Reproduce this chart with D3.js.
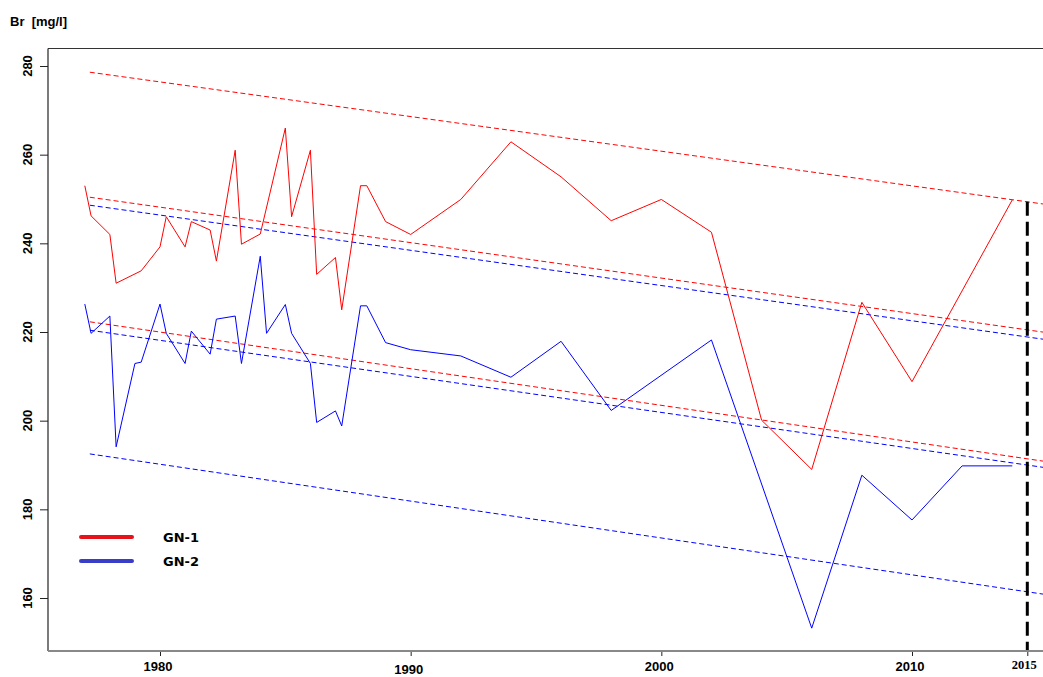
<!DOCTYPE html>
<html><head><meta charset="utf-8">
<script src="https://cdn.jsdelivr.net/npm/d3@7"></script>
<style>body{margin:0;background:#fff}svg{display:block}</style>
</head><body><svg id="c" width="1043" height="677"></svg>
<script>
// ---- data ----
const gn1Years = [1977,1977.25,1978,1978.25,1979.25,1980,1980.25,1981,1981.25,1982,1982.25,1983,1983.25,1984,1985,1985.25,1986,1986.25,1987,1987.25,1988,1988.25,1989,1990,1992,1994,1996,1998,2000,2002,2004,2006,2008,2010,2014];
const gn1Values = [253,246.2,242,231,233.8,239.2,246,239.2,244.9,243,236,261,239.8,242.1,266,246,261,233,236.8,225,253,253,244.9,242,249.9,262.9,255,245.1,249.9,242.5,200.1,189,226.7,208.8,249.8];
const gn2Years = [1977,1977.25,1978,1978.25,1979,1979.25,1980,1980.25,1981,1981.25,1982,1982.25,1983,1983.25,1984,1984.25,1985,1985.25,1986,1986.25,1987,1987.25,1988,1988.25,1989,1990,1992,1994,1996,1998,2002,2006,2008,2010,2012,2014];
const gn2Values = [226.3,219.7,223.6,194.1,212.9,213.2,226.3,219.7,212.9,220.2,215,222.9,223.6,212.9,237.1,219.7,226.2,219.7,212.9,199.6,202.2,198.8,225.9,225.9,217.6,216,214.6,209.8,217.9,202.3,218.2,153.2,187.7,177.6,189.8,189.8];
// trend lines (fit and bounds) at start / end years
const fitYears = [1977.2, 2015.2];
const gn1Upper = [278.6, 248.9];
const gn1Fit   = [250.4, 220.0];
const gn1Lower = [222.3, 190.9];
const gn2Upper = [248.6, 218.4];
const gn2Fit   = [220.4, 189.5];
const gn2Lower = [192.5, 160.9];
const markerPos = 2014.6;      // where the annotated "2015" marker sits on the time axis
const markerLabel = "2015";
const xTicks = [1980,1990,2000,2010];
const yTicks = [160,180,200,220,240,260,280];
const legendLabels = ["GN-1","GN-2"];
const yTitle = "Br  [mg/l]";

(function(){
// ---- layout ----
const svg = d3.select("#c");
const pL = 48, pT = 48.5, pB = 651, pR = 1070;
const x = d3.scaleLinear().domain([1980, 2010]).range([160, 912]);
const y = d3.scaleLinear().domain([280, 160]).range([66, 598]);
const red = "#ff0000", blue = "#0000ff";

svg.append("clipPath").attr("id","pc").append("rect")
  .attr("x", pL).attr("y", pT).attr("width", pR-pL).attr("height", pB-pT);

// frame lines
svg.append("line").attr("x1",pL).attr("x2",1043).attr("y1",pT).attr("y2",pT).attr("stroke","#333").attr("stroke-width",1);
svg.append("line").attr("x1",pL).attr("x2",pL).attr("y1",pT).attr("y2",pB).attr("stroke","#222").attr("stroke-width",1.2);

const g = svg.append("g").attr("clip-path","url(#pc)");
const line = d3.line().x(d=>x(d[0])).y(d=>y(d[1]));

function trend(vals, col){
  const s = (vals[1]-vals[0])/(fitYears[1]-fitYears[0]);
  const xe = x.invert(pR);
  g.append("path").datum([[fitYears[0], vals[0]], [xe, vals[0] + s*(xe-fitYears[0])]])
   .attr("d", line)
   .attr("fill","none").attr("stroke",col).attr("stroke-width",1).attr("stroke-dasharray","5,3");
}
trend(gn1Upper, red); trend(gn1Fit, red); trend(gn1Lower, red);
trend(gn2Upper, blue); trend(gn2Fit, blue); trend(gn2Lower, blue);

g.append("path").datum(gn1Years.map((yr,i)=>[yr,gn1Values[i]])).attr("d",line)
  .attr("fill","none").attr("stroke",red).attr("stroke-width",1);
g.append("path").datum(gn2Years.map((yr,i)=>[yr,gn2Values[i]])).attr("d",line)
  .attr("fill","none").attr("stroke",blue).attr("stroke-width",1);

// vertical marker from upper bound down to axis
const s1 = (gn1Upper[1]-gn1Upper[0])/(fitYears[1]-fitYears[0]);
const topVal = gn1Upper[0] + s1*(markerPos-fitYears[0]);
svg.append("line").attr("x1",x(markerPos)).attr("x2",x(markerPos))
  .attr("y1",y(topVal)).attr("y2",pB)
  .attr("stroke","#000").attr("stroke-width",3).attr("stroke-dasharray","14,6");

// x axis
const xa = svg.append("g").attr("transform",`translate(0,${pB})`)
  .call(d3.axisBottom(x).tickValues(xTicks.concat([markerPos])).tickSize(5).tickFormat(""));
xa.select(".domain").remove();
xa.selectAll(".tick line").attr("stroke","#222");
svg.append("line").attr("x1",pL).attr("x2",1043).attr("y1",pB).attr("y2",pB).attr("stroke","#888").attr("stroke-width",2);
svg.selectAll(".xl").data(xTicks).enter().append("text")
  .attr("x",d=>x(d)-2).attr("y",d=> d===1990 ? 674 : 671)
  .attr("text-anchor","middle").attr("font-family","Liberation Sans Narrow, Arial Narrow, Arial, sans-serif")
  .attr("font-weight","bold").attr("font-size",13).attr("fill","#000").text(d=>d);
svg.append("text").attr("x",x(markerPos)-3).attr("y",669).attr("text-anchor","middle")
  .attr("font-family","Liberation Serif, Times New Roman, serif").attr("font-weight","bold")
  .attr("font-size",12.5).text(markerLabel);

// y axis
const ya = svg.append("g").attr("transform",`translate(${pL},0)`)
  .call(d3.axisLeft(y).tickValues(yTicks).tickSize(8).tickFormat(""));
ya.select(".domain").remove();
ya.selectAll(".tick line").attr("stroke","#222");
svg.selectAll(".yl").data(yTicks).enter().append("text")
  .attr("transform",d=>`translate(32,${y(d)}) rotate(-90)`)
  .attr("text-anchor","middle").attr("font-family","Arial, Liberation Sans, sans-serif")
  .attr("font-weight","bold").attr("font-size",13).text(d=>d);

svg.append("text").attr("x",10).attr("y",26).attr("font-family","Arial, Liberation Sans, sans-serif")
  .attr("font-weight","bold").attr("font-size",13).style("white-space","pre").text(yTitle);

// legend
const legCols = ["#e8121a","#3a3dc8"];
legendLabels.forEach((lab,i)=>{
  const ly = 537 + i*24;
  svg.append("line").attr("x1",81).attr("x2",132).attr("y1",ly).attr("y2",ly)
    .attr("stroke",legCols[i]).attr("stroke-width",4).attr("stroke-linecap","round");
  svg.append("text").attr("x",163).attr("y",ly+5).attr("font-family","DejaVu Sans, Verdana, sans-serif")
    .attr("font-weight","bold").attr("font-size",13).text(lab);
});
})();
</script></body></html>
